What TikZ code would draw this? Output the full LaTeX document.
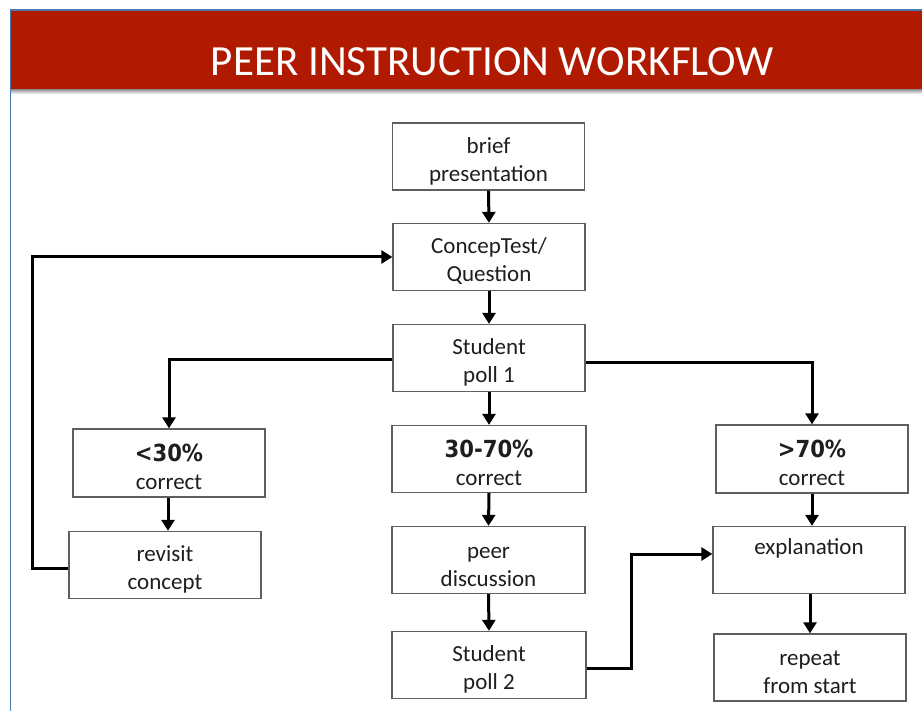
\documentclass[tikz,border=0pt]{standalone}
\usepackage{fontspec}
\setmainfont{Carlito}
\newfontfamily\pctfont[FakeStretch=0.9]{DejaVu Sans}
\usetikzlibrary{arrows.meta,positioning}
\definecolor{banner}{HTML}{AF1A00}
\definecolor{frameblue}{HTML}{4A7AB0}
\definecolor{boxline}{HTML}{5E5E5E}
\definecolor{txt}{HTML}{1E1E1E}
\tikzset{
  stepbox/.style={draw=boxline, line width=1.3pt, fill=white, text=txt,
    minimum width=192pt, minimum height=67pt, align=center, inner sep=0pt,
    font=\fontsize{23}{28}\selectfont},
  flow/.style={line width=3pt, -{Triangle[length=11pt,width=13pt]}},
}
\newcommand{\pct}[1]{{\pctfont\bfseries\fontsize{23.5}{28}\selectfont #1}}
\newcommand{\lo}{\rule{0pt}{25pt}}
\begin{document}
\begin{tikzpicture}[x=1pt,y=-1pt]
\useasboundingbox (0,0) rectangle (922,711);
% banner and frame
\shade[top color=black!45, bottom color=white] (10,89) rectangle (922,94);
\fill[banner] (10,10) rectangle (922,89);
\draw[frameblue, line width=1.6pt] (10.5,711) -- (10.5,10) -- (922,10);
\node[anchor=base, text=white, font=\fontsize{43}{48}\selectfont, inner sep=0pt] (title) at (492.5,76) {PEER INSTRUCTION WORKFLOW};

% nodes
\node[stepbox] (brief)   at (488.5,156.5) {\lo brief\\presentation};
\node[stepbox] (concep)  at (489,257)     {\lo ConcepTest/\\Question};
\node[stepbox] (poll1)   at (489,358)     {\lo Student\\poll 1};
\node[stepbox, minimum height=68pt] (lt30) at (169,463) {\lo\pct{<30\%}\\correct};
\node[stepbox] (revisit) at (165,565)     {\lo revisit\\concept};
\node[stepbox, minimum width=194pt] (mid) at (489,459) {\lo\pct{30-70\%}\\correct};
\node[stepbox, minimum width=193pt] (peer) at (488.5,560) {\lo peer\\discussion};
\node[stepbox, minimum width=194pt] (poll2) at (489,665) {\lo Student\\poll 2};
\node[stepbox, minimum height=68pt] (gt70) at (812,459) {\lo\pct{>70\%}\\correct};
\node[stepbox] (expl)    at (809,560)     {\lo explanation\\\strut};
\node[stepbox] (repeat)  at (810,667.5)   {\lo repeat\\from start};

\coordinate (loopx) at (32,0);
\coordinate (bendx) at (631,0);

% connectors
\draw[flow] (brief.south) -- (concep.north);
\draw[flow] (concep.south) -- (poll1.north);
\draw[flow] (poll1.south) -- (mid.north);
\draw[flow] ([yshift=-2pt]poll1.west) -| (lt30.north);
\draw[flow] ([yshift=-5pt]poll1.east) -| (gt70.north);
\draw[flow] ([xshift=-1pt]lt30.south) -- ([xshift=-1pt]lt30.south |- revisit.north);
\draw[flow] ([yshift=-3pt]revisit.west) -- ([yshift=-3pt]revisit.west -| loopx) |- (concep.west);
\draw[flow] (mid.south) -- (peer.north);
\draw[flow] (peer.south) -- (poll2.north);
\draw[flow] ([yshift=-3pt]poll2.east) -- ([yshift=-3pt]poll2.east -| bendx) |- ([yshift=6pt]expl.west);
\draw[flow] (gt70.south) -- (gt70.south |- expl.north);
\draw[flow] ([xshift=1pt]expl.south) -- ([xshift=1pt]expl.south |- repeat.north);
\end{tikzpicture}
\end{document}
